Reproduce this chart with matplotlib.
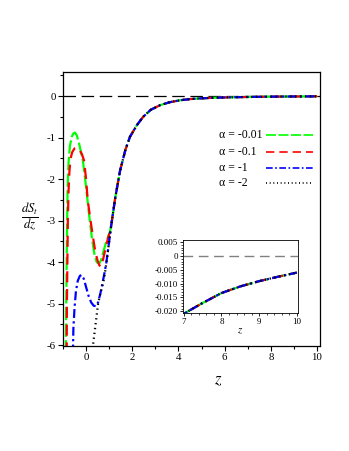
import numpy as np
import matplotlib
matplotlib.use('Agg')
import matplotlib.pyplot as plt
from matplotlib.lines import Line2D
from matplotlib.ticker import MultipleLocator, FixedLocator

plt.rcParams['font.family'] = ['Liberation Serif', 'DejaVu Serif']
plt.rcParams['mathtext.fontset'] = 'stix'
plt.rcParams['axes.unicode_minus'] = False

# ---------------- data ----------------
# shared tail (all four curves coincide here)
z_tail = [1.1, 1.26, 1.47, 1.7, 1.9, 2.2, 2.47, 2.8, 3.2, 3.6, 4.07, 4.5, 4.94, 5.4, 5.8,
          6.4, 7.05, 7.5, 8.0, 8.5, 9.0, 9.5, 10.0]
y_tail = [-3.07, -2.46, -1.8, -1.3, -0.98, -0.7, -0.5, -0.33, -0.22, -0.15, -0.1, -0.072, -0.055,
          -0.043, -0.035, -0.027, -0.0205, -0.017, -0.0134, -0.011, -0.0091, -0.0075, -0.006]

# alpha = -0.01
z_green = [-0.88, -0.86, -0.84, -0.82, -0.8, -0.76, -0.7, -0.62, -0.55, -0.48, -0.4, -0.3, -0.22,
           -0.14, -0.05, 0.05, 0.15, 0.26, 0.36, 0.46, 0.56, 0.65, 0.75, 0.85, 0.95, 1.04]
y_green = [-6.2, -5.0, -4.0, -3.0, -2.2, -1.6, -1.2, -0.98, -0.9, -0.88, -0.95, -1.15, -1.35,
           -1.55, -1.95, -2.45, -2.95, -3.45, -3.8, -4.0, -4.04, -3.95, -3.75, -3.55, -3.4, -3.25]

# alpha = -0.1
z_red = [-0.84, -0.83, -0.81, -0.79, -0.76, -0.72, -0.67, -0.6, -0.5, -0.39, -0.28, -0.18, -0.09,
         0.0, 0.07, 0.18, 0.3, 0.4, 0.5, 0.58, 0.65, 0.75, 0.85, 0.95, 1.04]
y_red = [-6.2, -5.0, -4.0, -3.0, -2.3, -1.8, -1.5, -1.35, -1.26, -1.24, -1.3, -1.4, -1.55,
         -2.0, -2.5, -2.95, -3.4, -3.75, -3.97, -4.08, -4.11, -3.9, -3.65, -3.42, -3.25]

# alpha = -1
z_blue = [-0.57, -0.55, -0.5, -0.44, -0.36, -0.27, -0.19, -0.1, 0.0, 0.1, 0.22, 0.33, 0.43,
          0.52, 0.62, 0.72, 0.8, 0.88, 1.0]
y_blue = [-6.2, -5.6, -5.1, -4.7, -4.45, -4.33, -4.31, -4.4, -4.6, -4.8, -4.97, -5.05, -5.06,
          -4.97, -4.75, -4.48, -4.25, -4.0, -3.5]

# alpha = -2
z_black = [0.27, 0.3, 0.41, 0.52, 0.62, 0.72, 0.8, 0.88, 1.0]
y_black = [-6.2, -6.0, -5.5, -5.0, -4.75, -4.55, -4.32, -4.02, -3.5]

labels = ['α = -0.01', 'α = -0.1', 'α = -1', 'α = -2']

series = [(z_green, y_green, 'lime', (0, (6, 1.5))),
          (z_red, y_red, 'red', (0, (5, 3))),
          (z_blue, y_blue, 'blue', (0, (4, 1.5, 1, 1.5))),
          (z_black, y_black, 'black', (0, (0.6, 1.6)))]

# ---------------- plotting ----------------
fig = plt.figure(figsize=(3.49, 4.51), dpi=100)
ax = fig.add_axes([0.1805, 0.2328, 0.7364, 0.6075])

ax.plot([-1.0, 10.13], [0, 0], color='black', lw=0.9, dashes=(10, 4.5))

for (zz, yy, col, ls) in series:
    ax.plot(list(zz) + z_tail, list(yy) + y_tail, color=col, ls=ls, lw=1.6)

ax.set_xlim(-1.0, 10.13)
ax.set_ylim(-6.02, 0.58)
ax.xaxis.set_major_locator(MultipleLocator(2))
ax.xaxis.set_minor_locator(MultipleLocator(1))
ax.yaxis.set_major_locator(MultipleLocator(1))
ax.yaxis.set_minor_locator(MultipleLocator(0.5))
ax.tick_params(which='major', direction='out', length=3.5, width=0.8, labelsize=7.8, pad=1.5)
ax.tick_params(which='minor', direction='out', length=2.5, width=0.8)
for sp in ax.spines.values():
    sp.set_linewidth(0.9)

fig.text(30 / 349, 1 - 218 / 451, r'$\frac{dS_t}{dz}$', fontsize=13, ha='center', va='center')
fig.text(218 / 349, 1 - 380 / 451, r'$z$', fontsize=12, ha='center', va='center')

# legend: text left-aligned, sample line to the right
row_y = [135, 152, 168, 183]
for (zz, yy, col, ls), lab, ry in zip(series, labels, row_y):
    yf = 1 - ry / 451
    fig.text(219 / 349, yf, lab, fontsize=8.5, ha='left', va='center')
    fig.add_artist(Line2D([266 / 349, 313 / 349], [yf, yf], transform=fig.transFigure,
                          color=col, ls=ls, lw=1.2))

# ---------------- inset ----------------
axin = fig.add_axes([0.5244, 0.3049, 0.3295, 0.1630])
axin.plot([6.98, 10.03], [0, 0], color='#808080', lw=1.0, dashes=(7, 4))
for (zz, yy, col, ls) in series:
    axin.plot(list(zz) + z_tail, list(yy) + y_tail, color=col, ls=ls, lw=1.6)
axin.set_xlim(6.98, 10.03)
axin.set_ylim(-0.0208, 0.0058)
axin.xaxis.set_major_locator(FixedLocator([7, 8, 9, 10]))
axin.yaxis.set_major_locator(FixedLocator([0.005, 0, -0.005, -0.010, -0.015, -0.020]))
axin.set_yticklabels(['0.005', '0', '-0.005', '-0.010', '-0.015', '-0.020'])
axin.yaxis.set_minor_locator(MultipleLocator(0.001))
axin.xaxis.set_minor_locator(MultipleLocator(0.2))
axin.tick_params(which='major', direction='out', length=2.5, width=0.6, labelsize=6.5, pad=1)
axin.tick_params(which='minor', direction='out', length=1.2, width=0.5)
for sp in axin.spines.values():
    sp.set_linewidth(0.6)
axin.set_xlabel(r'$z$', fontsize=8, labelpad=0)

fig.savefig('out.png', dpi=100)
